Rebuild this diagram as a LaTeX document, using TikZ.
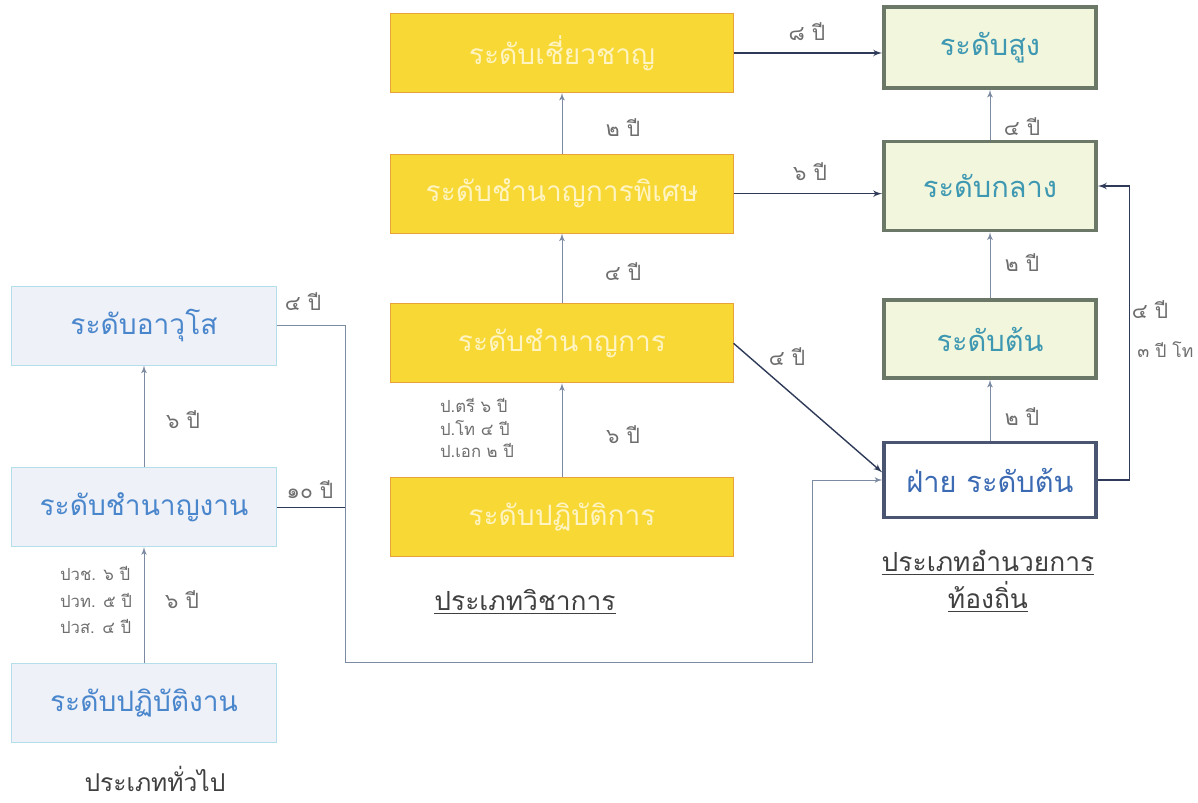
\documentclass[tikz,border=0pt]{standalone}
\usepackage{fontspec}
\newfontfamily\thaifont[Script=Thai]{Loma}
\usetikzlibrary{positioning,arrows,calc}
\definecolor{genfill}{HTML}{EEF1F8}
\definecolor{genline}{HTML}{B3DEEA}
\definecolor{gentext}{HTML}{4A86CC}
\definecolor{acafill}{HTML}{F7D834}
\definecolor{acaline}{HTML}{E9A23B}
\definecolor{acatext}{HTML}{FFF4C2}
\definecolor{exefill}{HTML}{F1F6DC}
\definecolor{exeline}{HTML}{6B7868}
\definecolor{exetext}{HTML}{3E98B2}
\definecolor{headline}{HTML}{4A5572}
\definecolor{headtext}{HTML}{3C6BB4}
\definecolor{linkcol}{HTML}{2E3A58}
\definecolor{stepcol}{HTML}{7D8BA2}
\definecolor{yearcol}{HTML}{6E6E6E}
\tikzset{
	>=latex'
}

\begin{document}
\begin{tikzpicture}[
x = 0.02cm,
y = -0.02cm,
node distance = 0mm,
every node/.style = {
	font = \thaifont
},
general/.style = {
	draw = genline,
	fill = genfill,
	text = gentext,
	minimum width = 5.3cm,
	minimum height = 1.58cm,
	font = \thaifont\fontsize{16}{19}\selectfont
},
academic/.style = {
	draw = acaline,
	fill = acafill,
	text = acatext,
	minimum width = 6.85cm,
	minimum height = 1.58cm,
	font = \thaifont\fontsize{16}{19}\selectfont
},
executive/.style = {
	draw = exeline,
	line width = 2pt,
	fill = exefill,
	text = exetext,
	minimum width = 4.24cm,
	font = \thaifont\fontsize{16.5}{19}\selectfont
},
years/.style = {
	text = yearcol,
	font = \thaifont\fontsize{12}{14}\selectfont
},
degree/.style = {
	text = yearcol,
	align = left,
	font = \thaifont\fontsize{9.5}{15}\selectfont
},
category/.style = {
	text = black!75,
	align = center,
	font = \thaifont\fontsize{15}{21}\selectfont
},
link/.style = {
	draw = linkcol,
	line width = 0.8pt
},
stepup/.style = {
	draw = stepcol,
	line width = 0.5pt
}
]
\useasboundingbox (0,0) rectangle (1198,803);

% general
\node (general1) [general] at (144,703) {ระดับปฏิบัติงาน};
\node (general2) [general, above = 2.32cm of general1] {ระดับชำนาญงาน};
\node (general3) [general, above = 2.04cm of general2] {ระดับอาวุโส};
\node (generaltitle) [category, font = \thaifont\fontsize{14}{16}\selectfont] at (155,779) {ประเภททั่วไป};

% academic
\node (academic1) [academic] at (562,517) {ระดับปฏิบัติการ};
\node (academic2) [academic, above = 1.88cm of academic1] {ระดับชำนาญการ};
\node (academic3) [academic, above = 1.4cm of academic2] {ระดับชำนาญการพิเศษ};
\node (academic4) [academic, above = 1.22cm of academic3] {ระดับเชี่ยวชาญ};
\node (academictitle) [category] at (525,602) {\underline{ประเภทวิชาการ}};

% executive
\node (executive1) [executive, minimum height = 1.5cm, draw = headline, fill = white, text = headtext] at (990,480) {ฝ่าย ระดับต้น};
\node (executive2) [executive, minimum height = 1.56cm, above = 1.22cm of executive1] {ระดับต้น};
\node (executive3) [executive, minimum height = 1.78cm, above = 1.32cm of executive2] {ระดับกลาง};
\node (executive4) [executive, minimum height = 1.62cm, above = 1.0cm of executive3] {ระดับสูง};
\node (executivetitle) [category] at (988,581) {\underline{ประเภทอำนวยการ}\\ \underline{ท้องถิ่น}};

\coordinate (corner1) at (345,662);
\coordinate (corner2) at (812,662);

% steps
\draw[stepup, ->] (general1) -- (general2);
\draw[stepup, ->] (general2) -- (general3);
\draw[stepup, ->] (academic1) -- (academic2);
\draw[stepup, ->] (academic2) -- (academic3);
\draw[stepup, ->] (academic3) -- (academic4);
\draw[stepup, ->] (executive1) -- (executive2);
\draw[stepup, ->] (executive2) -- (executive3);
\draw[stepup, ->] (executive3) -- (executive4);

% links
\draw[link, ->] (academic4.east) -- (academic4.east -| executive4.west);
\draw[link, ->] (academic3.east) -- (academic3.east -| executive3.west);
\draw[link, ->] (academic2.east) -- ([yshift=1.5mm]executive1.west);
\draw[link, ->] (executive1.east) -- ++(0.64cm,0) |- (executive3.east);
\draw[stepup, ->] (general3.east) -| (corner1) -- (corner2) |- (executive1.west);
\draw[link] (general2.east) -- (general2.east -| corner1);

% years
\node (yearsG1) [years] at (183,420) {๖ ปี};
\node (yearsG2) [years] at (182,600) {๖ ปี};
\node (yearsG3) [years] at (303,302) {๔ ปี};
\node (yearsG4) [years] at (310,490) {๑๐ ปี};
\node (degreeG) [degree] at (96,600) {ปวช. ๖ ปี\\ ปวท. ๕ ปี\\ ปวส. ๔ ปี};
\node (yearsA1) [years] at (623,435) {๖ ปี};
\node (yearsA2) [years] at (623,272) {๔ ปี};
\node (yearsA3) [years] at (623,128) {๒ ปี};
\node (yearsA4) [years] at (807,32) {๘ ปี};
\node (yearsA5) [years] at (810,172) {๖ ปี};
\node (yearsA6) [years] at (787,357) {๔ ปี};
\node (degreeA) [degree, font = \thaifont\fontsize{9.5}{13}\selectfont] at (477,428) {ป.ตรี ๖ ปี\\ ป.โท ๔ ปี\\ ป.เอก ๒ ปี};
\node (yearsE1) [years] at (1022,417) {๒ ปี};
\node (yearsE2) [years] at (1022,263) {๒ ปี};
\node (yearsE3) [years] at (1022,127) {๔ ปี};
\node (yearsE4) [years] at (1150,310) {๔ ปี};
\node (yearsE5) [years, anchor = west, inner sep = 0pt, font = \thaifont\fontsize{10}{12}\selectfont] at (1137,350) {๓ ปี โท};

\end{tikzpicture}
\end{document}
